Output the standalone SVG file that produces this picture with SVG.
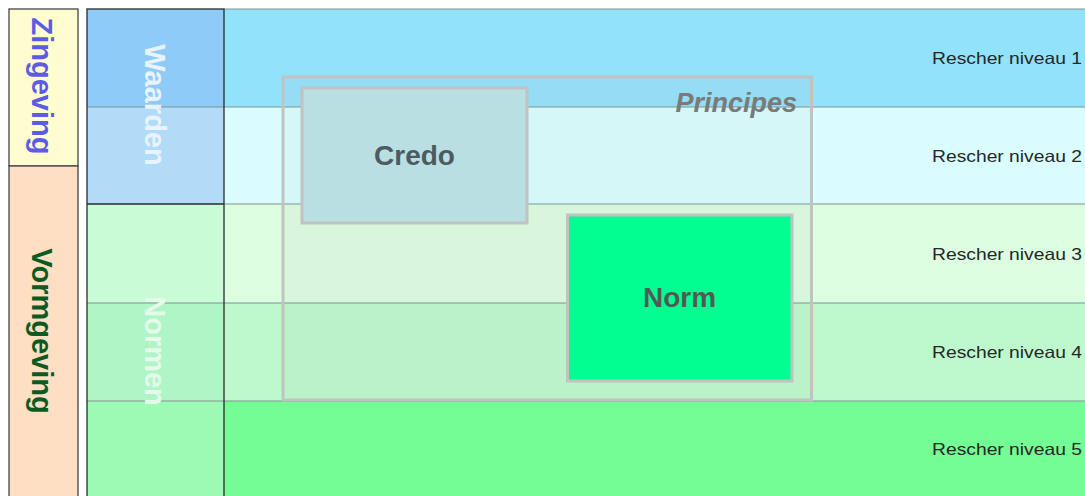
<svg xmlns="http://www.w3.org/2000/svg" width="1085" height="496" viewBox="0 0 1085 496">
  <style>
    .lvl { font-family: "Liberation Sans", Arial, sans-serif; font-size: 16.5px; fill: #262626; text-anchor: end; }
    .side { font-family: "Liberation Sans", Arial, sans-serif; font-weight: bold; font-size: 29px; text-anchor: middle; }
    .box { stroke: #c2c2c2; stroke-width: 3; }
    .big { font-family: "Liberation Sans", Arial, sans-serif; font-weight: bold; font-size: 28px; text-anchor: middle; }
    .sep { stroke: #7f9494; stroke-width: 1.2; }
  </style>
  <rect width="1085" height="496" fill="#ffffff"/>

  <!-- Rescher levels (right area) -->
  <g id="levels">
    <rect x="224" y="9" width="861" height="98" fill="#93e2fb"/>
    <rect x="224" y="107" width="861" height="97" fill="#dafeff"/>
    <rect x="224" y="204" width="861" height="99" fill="#dcfde0"/>
    <rect x="224" y="303" width="861" height="98" fill="#bdf9cd"/>
    <rect x="224" y="401" width="861" height="95" fill="#74fc95"/>
    <line class="sep" x1="224" y1="9" x2="1085" y2="9"/>
    <line class="sep" x1="224" y1="107" x2="1085" y2="107"/>
    <line class="sep" x1="224" y1="204" x2="1085" y2="204"/>
    <line class="sep" x1="224" y1="303" x2="1085" y2="303"/>
    <line class="sep" x1="224" y1="401" x2="1085" y2="401"/>
    <text class="lvl" x="1082" y="64" textLength="150" lengthAdjust="spacingAndGlyphs">Rescher niveau 1</text>
    <text class="lvl" x="1082" y="162" textLength="150" lengthAdjust="spacingAndGlyphs">Rescher niveau 2</text>
    <text class="lvl" x="1082" y="260" textLength="150" lengthAdjust="spacingAndGlyphs">Rescher niveau 3</text>
    <text class="lvl" x="1082" y="358" textLength="150" lengthAdjust="spacingAndGlyphs">Rescher niveau 4</text>
    <text class="lvl" x="1082" y="455" textLength="150" lengthAdjust="spacingAndGlyphs">Rescher niveau 5</text>
  </g>

  <!-- Zingeving / Vormgeving column -->
  <g id="zingeving">
    <rect x="9" y="9" width="69" height="157" fill="#fffdd0" stroke="#444" stroke-width="1.3"/>
    <text class="side" fill="#5b5be6" transform="translate(32,86) rotate(90)">Zingeving</text>
  </g>
  <g id="vormgeving">
    <rect x="9" y="166" width="69" height="340" fill="#ffdfc4" stroke="#444" stroke-width="1.3"/>
    <text class="side" fill="#0b5a22" transform="translate(32,331) rotate(90)">Vormgeving</text>
  </g>

  <!-- Waarden / Normen column -->
  <g id="waarden">
    <rect x="87" y="9" width="137" height="98" fill="#8ecbf6"/>
    <rect x="87" y="107" width="137" height="97" fill="#b2dbf8"/>
    <line class="sep" x1="87" y1="107" x2="224" y2="107"/>
    <text class="side" fill="#e9f3fd" transform="translate(145,105) rotate(90)">Waarden</text>
  </g>
  <g id="normen">
    <rect x="87" y="204" width="137" height="99" fill="#c8fbd6"/>
    <rect x="87" y="303" width="137" height="98" fill="#b0f5c6"/>
    <rect x="87" y="401" width="137" height="95" fill="#9cfab4"/>
    <line class="sep" x1="87" y1="303" x2="224" y2="303"/>
    <line class="sep" x1="87" y1="401" x2="224" y2="401"/>
    <text class="side" fill="#e4fbea" font-size="28" transform="translate(145,351) rotate(90)">Normen</text>
  </g>
  <g id="column-frame" fill="none" stroke="#2a2a2a" stroke-width="1.3">
    <rect x="87" y="9" width="137" height="497"/>
    <line x1="87" y1="204" x2="224" y2="204"/>
  </g>

  <!-- Principes frame with Credo and Norm -->
  <g id="principes">
    <rect class="box" x="283" y="77" width="528.5" height="323" fill="#a0a0a0" fill-opacity="0.08"/>
    <text x="797" y="112" font-family="'Liberation Sans', Arial, sans-serif" font-weight="bold" font-style="italic" font-size="27" fill="#7a7a7a" text-anchor="end">Principes</text>
  </g>
  <g id="credo">
    <rect class="box" x="302" y="88" width="225" height="135" fill="#b9dfe2"/>
    <text class="big" x="414.5" y="165" fill="#4d5b60">Credo</text>
  </g>
  <g id="norm">
    <rect class="box" x="567.5" y="215" width="224.5" height="166" fill="#00fe90"/>
    <text class="big" x="679.5" y="307" fill="#505a55">Norm</text>
  </g>

  <g id="connectors"/>
</svg>
